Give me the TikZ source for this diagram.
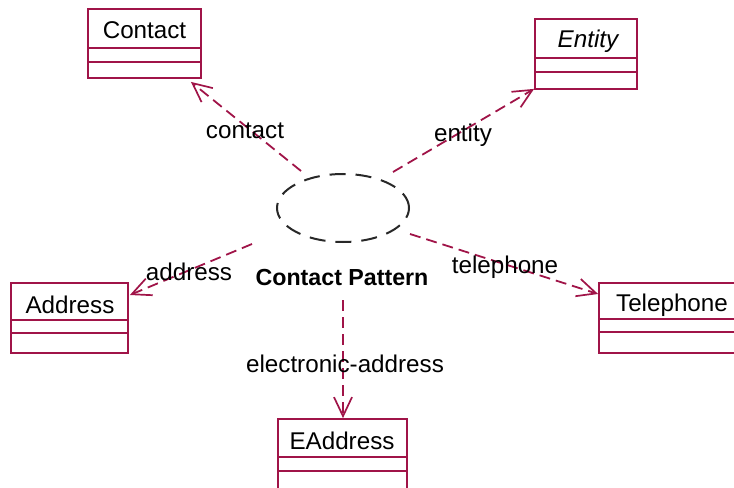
\documentclass[tikz,border=0pt]{standalone}
\usepackage{fontspec}
\setmainfont{Liberation Sans}
\usetikzlibrary{arrows.meta,shapes.geometric,calc}
\definecolor{umlred}{RGB}{160,20,72}
\definecolor{patgray}{RGB}{40,40,40}
\tikzset{
  cls/.style={draw=umlred, line width=1.8bp, rectangle, inner sep=0pt},
  cmp/.style={draw=umlred, line width=1.3bp},
  clsname/.style={font=\fontsize{24.3}{27}\selectfont, inner sep=0pt},
  dep/.style={draw=umlred, line width=1.8bp, dash pattern=on 11bp off 6bp,
    -{Straight Barb[length=19bp,width=18bp,line width=1.7bp]}},
  lbl/.style={font=\fontsize{24.3}{27}\selectfont, inner sep=0pt},
  collab/.style={draw=patgray, line width=2bp, dash pattern=on 16bp off 10bp,
    ellipse, inner sep=0pt, minimum width=132bp, minimum height=68bp}
}
% draw a class box: name, left, top, right, bottom, line1, line2
\newcommand{\umlclass}[7]{%
  \node[cls, minimum width={(#4-#2)*1bp}, minimum height={(#5-#3)*1bp}]
    (#1) at ({(#2+#4)/2},{(#3+#5)/2}) {};
  \draw[cmp] (#2,#6) -- (#4,#6);
  \draw[cmp] (#2,#7) -- (#4,#7);
}
\begin{document}
\begin{tikzpicture}[x=1bp,y=-1bp]
\useasboundingbox (0,0) rectangle (734,488);

% classes
\umlclass{contact}{88}{9}{201}{78}{48}{62}
\node[clsname] (contactname) at (144.5,30) {Contact};
\umlclass{entity}{535}{19}{637}{89}{58}{72}
\node[clsname] (entityname) at (588,41) {\itshape Entity};
\umlclass{address}{11}{283}{128}{353}{320}{333}
\node[clsname] (addressname) at (70,305) {Address};
\umlclass{telephone}{599}{283}{746}{353}{319}{332}
\node[clsname] (telephonename) at (672,305) {Telephone};
\umlclass{eaddress}{278}{419}{407}{500}{457}{471}
\node[clsname] (eaddressname) at (342,441) {EAddress};

% collaboration
\node[collab] (pattern) at (343,208) {};
\node[lbl, font=\fontsize{23.3}{26}\selectfont\bfseries] (patname) at (342,278) {Contact Pattern};

% connector ends near the collaboration
\coordinate (c1) at (301,171);
\coordinate (c2) at (393,172);
\coordinate (c3) at (252,244);
\coordinate (c4) at (410,234);
\coordinate (c5) at (343,300);

\draw[dep] (c1) -- ([xshift=-11bp,yshift=-3bp]contact.south east);
\draw[dep] (c2) -- ([yshift=1bp]entity.south west);
\draw[dep] (c3) -- ([xshift=1bp,yshift=23bp]address.east);
\draw[dep] (c4) -- ([yshift=24bp]telephone.west);
\draw[dep] (c5) -- (eaddress.north -| c5);

% role labels
\node[lbl] (l1) at (245,131) {contact};
\node[lbl] (l2) at (463,135) {entity};
\node[lbl] (l3) at (189,272) {address};
\node[lbl] (l4) at (505,267) {telephone};
\node[lbl] (l5) at (345,364) {electronic-address};
\end{tikzpicture}
\end{document}
